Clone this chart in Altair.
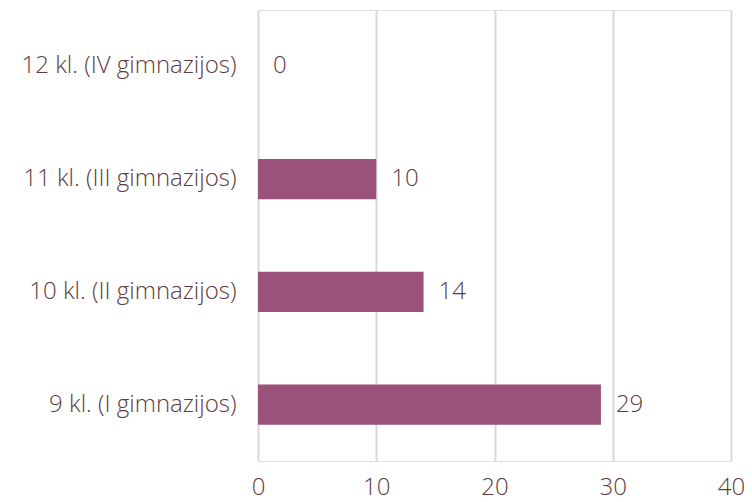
import altair as alt
import pandas as pd

categories = ["12 kl. (IV gimnazijos)", "11 kl. (III gimnazijos)", "10 kl. (II gimnazijos)", "9 kl. (I gimnazijos)"]
values = [0, 10, 14, 29]

df = pd.DataFrame({"cat": categories, "val": values})

TEXT = "#5e3b3c"
BAR = "#9b527a"
FONT = "Open Sans"
FS = 24
FW = 300

y_enc = alt.Y("cat:N", sort=categories, title=None,
              scale=alt.Scale(paddingInner=0.645, paddingOuter=0.3225),
              axis=alt.Axis(domain=False, ticks=False, labelFontSize=FS, labelColor=TEXT,
                            labelFont=FONT, labelFontWeight=FW, labelPadding=22, grid=False, labelLimit=300))
x_enc = alt.X("val:Q", title=None, scale=alt.Scale(domain=[0, 40], nice=False),
              axis=alt.Axis(values=[0, 10, 20, 30, 40], domain=False, ticks=False, grid=True,
                            gridColor="#d9d9d9", gridWidth=2, labelFontSize=FS, labelColor=TEXT,
                            labelFont=FONT, labelFontWeight=FW, labelPadding=14,
                            labelOverlap=False, labelFlush=False))

bars = alt.Chart(df).mark_bar(color=BAR).encode(y=y_enc, x=x_enc)
labels = alt.Chart(df).mark_text(align="left", baseline="middle", dx=15, fontSize=FS,
                                 color=TEXT, font=FONT, fontWeight=FW).encode(
    y=alt.Y("cat:N", sort=categories), x=alt.X("val:Q"), text=alt.Text("val:Q"))

chart = (bars + labels).properties(
    width=473, height=451,
    autosize=alt.AutoSizeParams(type="none"),
    padding={"left": 250, "top": 2, "right": 13, "bottom": 48},
).configure_view(stroke=None).configure(background="white")

chart.save("out.html", embed_options={"renderer": "svg", "actions": False})
